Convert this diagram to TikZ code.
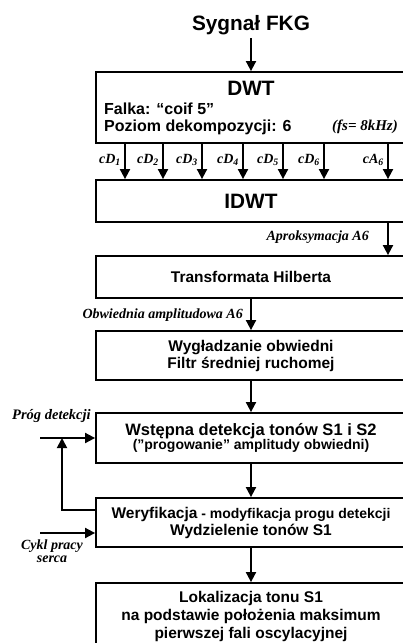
\documentclass[tikz,border=0pt]{standalone}
\usepackage{fontspec}
\setmainfont{Liberation Sans}
\newfontfamily\labfont{Liberation Serif}
\usetikzlibrary{arrows.meta}
\begin{document}
\begin{tikzpicture}[x=1pt,y=-1pt,
  box/.style={draw, line width=1.8pt, minimum width=310pt, inner sep=0pt, align=center,
    font=\bfseries\fontsize{15.5}{17}\selectfont},
  arr/.style={line width=1.8pt, -{Triangle[length=10pt,width=10pt]}},
  ln/.style={line width=1.8pt},
  lbl/.style={inner sep=0pt, font=\labfont\bfseries\itshape\fontsize{14}{14}\selectfont},
  big/.style={inner sep=0pt, font=\bfseries\fontsize{20.8}{24}\selectfont},
  mid/.style={inner sep=0pt, font=\bfseries\fontsize{16}{18}\selectfont},
  ]
\useasboundingbox (0,0) rectangle (403,643);
\clip (0,0) rectangle (403,643);

% title
\node[big] (title) at (251,25) {Sygnał FKG};
\coordinate (tin) at (251,38);

% DWT box
\node[box, minimum height=71pt] (dwt) at (251,107.5) {};
\node[big] (dwtt) at (251,88) {DWT};
\node[mid, anchor=west] (falka) at (104,109) {Falka: “coif 5”};
\node[mid, anchor=west] (poziom) at (104,127) {Poziom dekompozycji: 6};
\node[lbl, anchor=east, font=\labfont\bfseries\itshape\fontsize{15}{15}\selectfont] (fs) at (398,127) {(fs= 8kHz)};
\draw[arr] (tin) -- (dwt.north);

% IDWT box
\node[box, minimum height=42pt, font=\bfseries\fontsize{20.8}{24}\selectfont] (idwt) at (251,201) {IDWT};

% coefficient arrows
\foreach \x/\t [count=\i] in {125/cD\textsubscript{1}, 163/cD\textsubscript{2}, 202/cD\textsubscript{3},
   243/cD\textsubscript{4}, 283/cD\textsubscript{5}, 324/cD\textsubscript{6}, 388/cA\textsubscript{6}}{
  \coordinate (c\i) at (\x,150);
  \draw[arr] (dwt.south -| c\i) -- (idwt.north -| c\i);
  \node[lbl, anchor=east] (cl\i) at (\x-4,160) {\t};
}

% Hilbert
\node[box, minimum height=42pt] (hil) at (251,277) {Transformata Hilberta};
\coordinate (ax) at (388,240);
\draw[arr] (idwt.south -| ax) -- (hil.north -| ax);
\node[lbl, anchor=east] (apr) at (369,237) {Aproksymacja A6};

% smoothing
\node[box, minimum height=49pt] (wyg) at (251,355.5) {Wygładzanie obwiedni\\Filtr średniej ruchomej};
\draw[arr] (hil.south) -- (wyg.north);
\node[lbl, anchor=east] (obw) at (243,315) {Obwiednia amplitudowa A6};

% detection
\node[box, minimum height=50pt] (wst) at (251,438)
  {{\fontsize{16.5}{18}\selectfont Wstępna detekcja tonów S1 i S2}\\[-3pt]
   {\fontsize{14}{16}\selectfont (”progowanie” amplitudy obwiedni)}};
\draw[arr] (wyg.south) -- (wst.north);
\coordinate (pin) at (40,438);
\draw[arr] (pin) -- (wst.west |- pin);
\node[lbl, anchor=west, font=\labfont\bfseries\itshape\fontsize{14.5}{14.5}\selectfont] (prog) at (12,416) {Próg detekcji};

% verification
\node[box, minimum height=49pt] (wer) at (251,522.5)
  {Weryfikacja{\fontsize{14}{16}\selectfont\ - modyfikacja progu detekcji}\\Wydzielenie tonów S1};
\draw[arr] (wst.south) -- (wer.north);
\coordinate (fb) at (62,510);
\draw[arr] (wer.west |- fb) -- (fb) -- (fb |- pin);
\coordinate (cin) at (40,533);
\draw[arr] (cin) -- (wer.west |- cin);
\node[lbl, align=center, font=\labfont\bfseries\itshape\fontsize{14}{13}\selectfont] (cykl) at (52,551.5) {Cykl pracy\\serca};

% localisation
\node[box, minimum height=67pt, font=\bfseries\fontsize{15.5}{18}\selectfont] (lok) at (251,616.5)
  {Lokalizacja tonu S1\\na podstawie położenia maksimum\\pierwszej fali oscylacyjnej};
\draw[arr] (wer.south) -- (lok.north);
\end{tikzpicture}
\end{document}
